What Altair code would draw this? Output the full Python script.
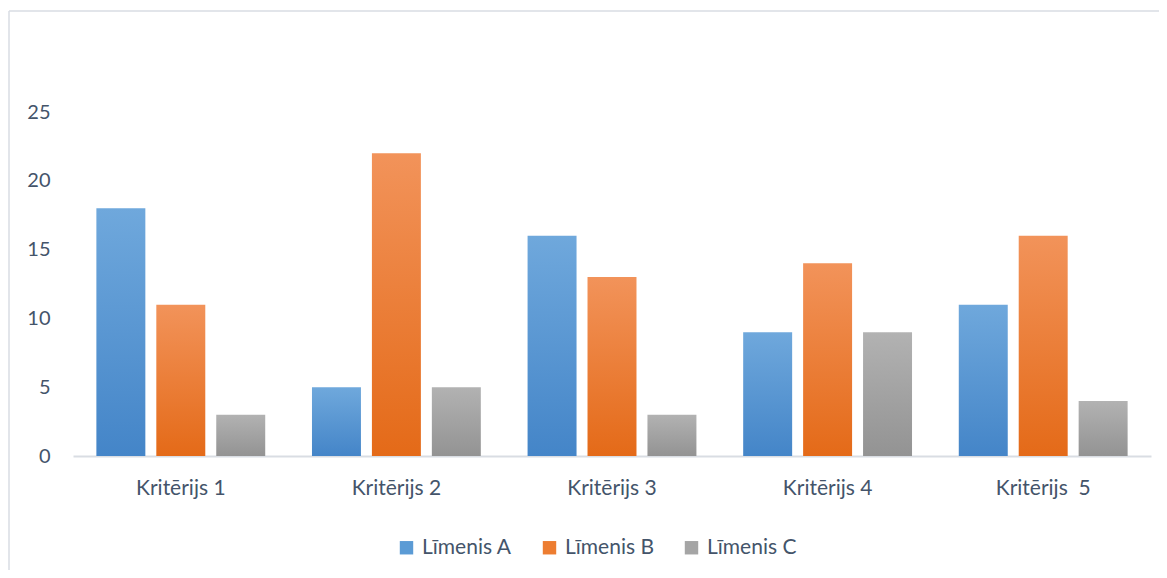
import altair as alt
import pandas as pd

criteria = ["Kritērijs 1", "Kritērijs 2", "Kritērijs 3", "Kritērijs 4", "Kritērijs \u00a05"]
levels = ["Līmenis A", "Līmenis B", "Līmenis C"]
level_a = [18, 5, 16, 9, 11]
level_b = [11, 22, 13, 14, 16]
level_c = [3, 5, 3, 9, 4]
y_ticks = [0, 5, 10, 15, 20, 25]

solid = ["#5b9bd5", "#ed7d31", "#a5a5a5"]
grad_top = ["#6fa8dc", "#f2935a", "#b2b2b2"]
grad_bottom = ["#4485c8", "#e46a18", "#939393"]

rows = []
for i, c in enumerate(criteria):
    for lev, vals in zip(levels, [level_a, level_b, level_c]):
        rows.append({"k": c, "s": lev, "v": vals[i]})
df = pd.DataFrame(rows)

TEXT = "#44546a"
GRID = "#d9dde3"
FONT = "Lato"

x_enc = alt.X("k:N", sort=criteria,
              scale=alt.Scale(paddingInner=0, paddingOuter=0),
              axis=alt.Axis(title=None, labelAngle=0, ticks=False, grid=False,
                            domainColor=GRID, domainWidth=2, labelPadding=21,
                            labelFontSize=21, labelFont=FONT, labelColor=TEXT))
xo_enc = alt.XOffset("s:N", scale=alt.Scale(domain=levels, paddingInner=0.183, paddingOuter=0.39))
y_enc = alt.Y("v:Q", scale=alt.Scale(domain=[0, 25], nice=False),
              axis=alt.Axis(values=y_ticks, title=None, domain=False, ticks=False,
                            gridColor=GRID, gridWidth=1.5, labelPadding=23,
                            labelFontSize=20, labelFont=FONT, labelColor=TEXT))

base = alt.Chart(df)

legend_layer = base.mark_bar().encode(
    x=x_enc, xOffset=xo_enc, y=alt.datum(0),
    color=alt.Color("s:N", scale=alt.Scale(domain=levels, range=solid),
                    legend=alt.Legend(title=None, orient="none", legendX=323, legendY=425,
                                      direction="horizontal", symbolType="square",
                                      symbolSize=180, symbolStrokeWidth=0,
                                      labelFontSize=21, labelFont=FONT, labelColor=TEXT,
                                      columnPadding=27, labelOffset=5)),
)

bar_layers = []
for lev, top, bot in zip(levels, grad_top, grad_bottom):
    grad = alt.LinearGradient(
        gradient="linear",
        stops=[alt.GradientStop(color=top, offset=0), alt.GradientStop(color=bot, offset=1)],
        x1=0, x2=0, y1=0, y2=1)
    bar_layers.append(
        base.mark_bar(fill=grad).encode(x=x_enc, xOffset=xo_enc, y=y_enc)
        .transform_filter(alt.datum.s == lev)
    )

frame_df = pd.DataFrame({"a": [0]})
frame_top = alt.Chart(frame_df).mark_rule(color=GRID, strokeWidth=1.5).encode(
    x=alt.value(-64), x2=alt.value(1200), y=alt.value(-101))
frame_left = alt.Chart(frame_df).mark_rule(color=GRID, strokeWidth=1.5).encode(
    x=alt.value(-64), y=alt.value(-101), y2=alt.value(600))

chart = alt.layer(legend_layer, *bar_layers, frame_top, frame_left).properties(
    width=1078, height=344,
    padding={"left": 65, "top": 104, "right": 8, "bottom": 114},
    autosize=alt.AutoSizeParams(type="none"),
    background="white",
).configure_view(stroke=None)

chart.save("out.html", embed_options={"renderer": "svg", "actions": False})
